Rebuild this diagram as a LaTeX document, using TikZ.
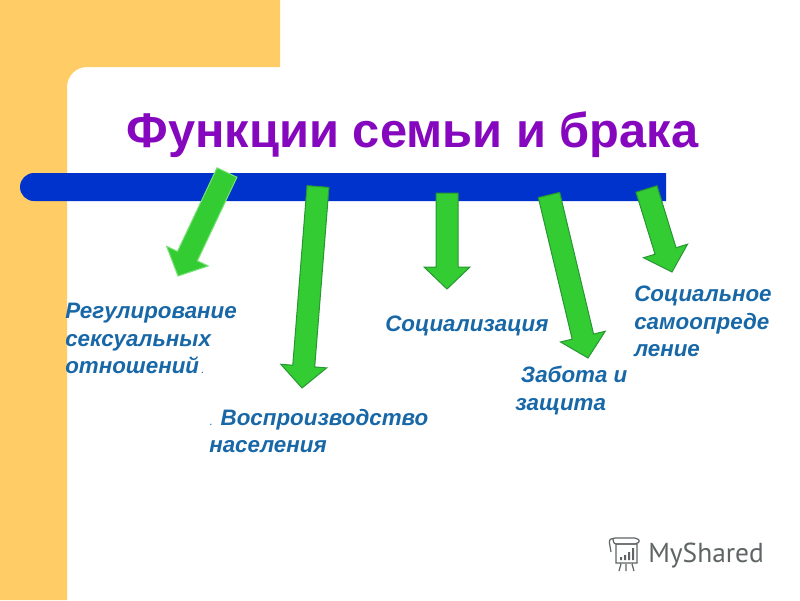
\documentclass[tikz,border=0pt]{standalone}
\usepackage{fontspec}
\setmainfont{Liberation Sans}
\newfontfamily\logofont{PT Sans}
\usetikzlibrary{calc}
\definecolor{slideorange}{RGB}{255,204,102}
\definecolor{barblue}{RGB}{0,51,204}
\definecolor{titlepurple}{RGB}{133,8,190}
\definecolor{labelblue}{RGB}{24,104,168}
\definecolor{arrowgreen}{RGB}{51,204,51}
\definecolor{arrowdark}{RGB}{40,150,50}
\definecolor{arrowlight}{RGB}{120,225,120}
\definecolor{logogray}{RGB}{95,100,100}
\tikzset{
  labeltext/.style={anchor=north west,inner sep=0pt,align=left,text=labelblue,
    font=\fontsize{15.9}{19.5}\selectfont\bfseries\itshape},
  fatarrow/.style={fill=arrowgreen,line width=0.25mm,line join=miter},
  logoline/.style={draw=logogray,line width=0.3mm}
}
\begin{document}
\begin{tikzpicture}[x=0.25mm,y=-0.25mm]
  \useasboundingbox (0,0) rectangle (800,600);
  \fill[white] (0,0) rectangle (800,600);
  \fill[slideorange] (0,0) -- (280,0) -- (280,67) -- (87,67) arc[start angle=-90,end angle=-180,radius=20] -- (67,600) -- (0,600) -- cycle;

  \node[anchor=base,inner sep=0pt,text=titlepurple,font=\fontsize{34.7}{40}\selectfont\bfseries] (title) at (412.5,147) {Функции семьи и брака};

  \fill[barblue] (666,173) -- (34,173) arc[start angle=-90,end angle=-270,radius=14] -- (666,201) -- cycle;

  \coordinate (tailsex) at (227,172.5);
  \coordinate (tipsex) at (178,276);
  \coordinate (tailrepro) at (318,186.5);
  \coordinate (tiprepro) at (302,388);
  \coordinate (tailsocial) at (447,193);
  \coordinate (tipsocial) at (447,289);
  \coordinate (tailcare) at (549,195);
  \coordinate (tipcare) at (588,358);
  \coordinate (tailself) at (646.5,189);
  \coordinate (tipself) at (672,272);

  \foreach \s/\t/\e in {tailsex/tipsex/arrowlight,tailrepro/tiprepro/arrowdark,tailsocial/tipsocial/arrowdark,tailcare/tipcare/arrowdark,tailself/tipself/arrowdark}{
    \coordinate (headbase) at ($(\t)!5.5mm!(\s)$);
    \draw[fatarrow,draw=\e] ($(\s)!2.75mm!90:(\t)$) -- ($(headbase)!2.75mm!90:(\t)$) -- ($(headbase)!5.75mm!90:(\t)$) -- (\t)
      -- ($(headbase)!5.75mm!-90:(\t)$) -- ($(headbase)!2.75mm!-90:(\t)$) -- ($(\s)!2.75mm!-90:(\t)$) -- cycle;
  }

  \node[labeltext] (sexlabel) at (65,303) {Регулирование\\сексуальных\\отношений{\mdseries\upshape\footnotesize\,.}};
  \node[labeltext] (reprolabel) at (209,409) {{\mdseries\upshape\footnotesize .} Воспроизводство\\населения};
  \node[labeltext] (sociallabel) at (385,316) {Социализация};
  \node[labeltext] (carelabel) at (515,366) {\hspace{4pt}Забота и\\защита};
  \node[labeltext] (selflabel) at (634,286) {Социальное\\самоопреде\\ление};

  \node[anchor=base west,inner sep=0pt,text=logogray,font=\logofont\fontsize{19.5}{22}\selectfont] (logotext) at (648,562) {MyShared};
  \draw[logoline,rounded corners=1.5pt] (611,552) -- (609,540) -- (613,538) -- (637,538) -- (640,541) -- (637,544) -- (614,544) -- (613,539);
  \draw[logoline] (616,544) rectangle (637,563) (621,564) -- (619,571) (626,564) -- (626,571) (632,564) -- (634,571);
  \fill[logogray] (620,557) rectangle (622,560) (624,555) rectangle (626,560) (628,552) rectangle (630,560) (632,548) rectangle (634,560);
\end{tikzpicture}
\end{document}
